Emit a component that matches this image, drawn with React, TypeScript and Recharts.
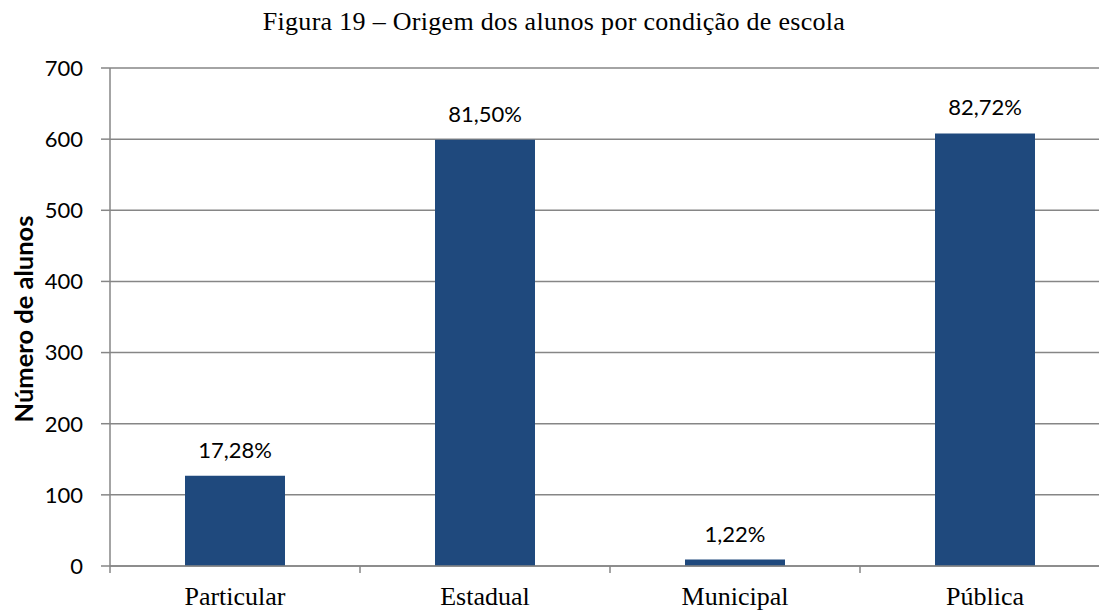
import { BarChart, Bar, XAxis, YAxis, CartesianGrid, LabelList } from "recharts";

const categories = ["Particular", "Estadual", "Municipal", "Pública"];
const alunos = [127, 599, 9, 608];
const percentuais = ["17,28%", "81,50%", "1,22%", "82,72%"];
const yTicks = [0, 100, 200, 300, 400, 500, 600, 700];

const data = categories.map((name, i) => ({ name, alunos: alunos[i], pct: percentuais[i] }));

const W = 1120;
const H = 610;
const MARGIN = { top: 68, right: 10, left: 50, bottom: 4 };
const Y_W = 60;
const X_H = 40;
const BAND = (W - MARGIN.left - MARGIN.right - Y_W) / categories.length;
const PLOT_MID = MARGIN.top + (H - MARGIN.top - MARGIN.bottom - X_H) / 2;
const SANS = "Lato, 'Open Sans', sans-serif";
const SERIF = "'Liberation Serif', 'Times New Roman', serif";
const GRID = "#868686";

function CatTick(props: any) {
  const { x, y, payload } = props;
  return (
    <g>
      <line x1={x - BAND / 2} x2={x - BAND / 2} y1={y - 8} y2={y - 1} stroke={GRID} strokeWidth={1.5} />
      <text x={x} y={y + 31} textAnchor="middle" fontFamily={SERIF} fontSize={26} fill="#000">
        {payload.value}
      </text>
    </g>
  );
}

function YLabel() {
  const cy = PLOT_MID + 2;
  return (
    <text
      x={23}
      y={cy}
      transform={`rotate(-90, 23, ${cy})`}
      textAnchor="middle"
      dominantBaseline="central"
      fontFamily={SANS}
      fontWeight="bold"
      fontSize={25.5}
      fill="#000"
    >
      Número de alunos
    </text>
  );
}

export default function App() {
  return (
    <div style={{ position: "fixed", top: 0, left: 0, width: 1099, height: 610, overflow: "hidden", background: "#fff" }}>
      <div
        style={{
          position: "absolute",
          top: 7,
          left: 0,
          width: 1108,
          textAlign: "center",
          fontFamily: SERIF,
          fontSize: 26,
          letterSpacing: 0.3,
          color: "#000",
          whiteSpace: "nowrap",
        }}
      >
        Figura 19 – Origem dos alunos por condição de escola
      </div>
      <BarChart width={W} height={H} data={data} margin={MARGIN} barSize={100}>
        <CartesianGrid vertical={false} stroke={GRID} strokeWidth={1.5} />
        <XAxis
          dataKey="name"
          height={X_H}
          tickLine={false}
          axisLine={{ stroke: GRID, strokeWidth: 1.5 }}
          tick={<CatTick />}
          interval={0}
        />
        <YAxis
          width={Y_W}
          domain={[0, 700]}
          ticks={yTicks}
          interval={0}
          tickSize={9}
          tickMargin={18}
          tickLine={{ stroke: GRID, strokeWidth: 1.5 }}
          axisLine={{ stroke: GRID, strokeWidth: 1.5 }}
          tick={{ fontFamily: SANS, fontSize: 22, fill: "#000" }}
          label={<YLabel />}
        />
        <Bar dataKey="alunos" fill="#1F497D" isAnimationActive={false}>
          <LabelList dataKey="pct" position="top" offset={18} style={{ fontFamily: SANS, fontSize: 22, fill: "#000" }} />
        </Bar>
      </BarChart>
    </div>
  );
}
